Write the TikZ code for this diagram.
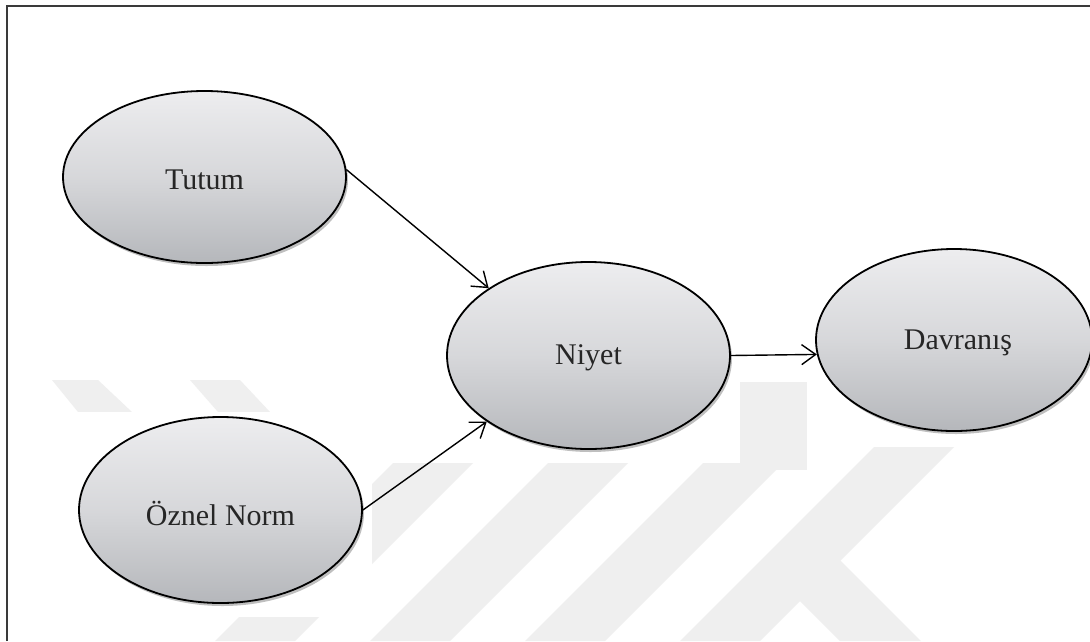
\documentclass[tikz,border=0pt]{standalone}
\usepackage{fontspec}
\setmainfont{Liberation Serif}
\usetikzlibrary{shapes.geometric,arrows.meta,shadows}
\definecolor{wm}{HTML}{EFEFEF}
\definecolor{frame}{HTML}{3A3A3A}
\definecolor{eltop}{HTML}{EDEDEF}
\definecolor{elbot}{HTML}{B5B7BB}
\tikzset{
  oval/.style={ellipse, draw=black, line width=1.8pt, inner sep=0pt,
    top color=eltop, bottom color=elbot, middle color=eltop!60!elbot,
    drop shadow={shadow xshift=2pt, shadow yshift=-3pt, opacity=0.25, fill=black}},
  lbl/.style={font=\fontsize{30}{36}\selectfont, inner sep=0pt, text=black!85},
  conn/.style={line width=1.4pt, -{Straight Barb[length=14pt,width=20pt,line width=1.4pt]}},
  wmshape/.style={fill=wm, draw=none},
  cut/.style={fill=white, draw=none}
}
\begin{document}
\begin{tikzpicture}[x=1pt,y=-1pt]
\useasboundingbox (0,0) rectangle (1090,641);
\fill[white] (0,0) rectangle (1090,641);
% watermark
\fill[wmshape] (52,380) -- (98,380) -- (132,412) -- (78,412) -- cycle;
\fill[wmshape] (190,380) -- (240,380) -- (270,412) -- (218,412) -- cycle;
\fill[wmshape] (215,641) -- (295,641) -- (500,436) -- (420,436) -- cycle;
\fill[wmshape] (370,641) -- (450,641) -- (655,436) -- (575,436) -- cycle;
\fill[wmshape] (525,641) -- (605,641) -- (810,436) -- (730,436) -- cycle;
\fill[wmshape] (680,641) -- (760,641) -- (1020,381) -- (940,381) -- cycle;
\fill[wmshape] (740,382) -- (807,382) -- (807,470) -- (740,470) -- cycle;
\fill[wmshape] (810,530) -- (921,641) -- (840,641) -- (765,566) -- cycle;
% white cut-outs
\fill[cut] (60,412) rectangle (372,617);
\fill[cut] (372,250) rectangle (740,463);
\fill[cut] (740,320) rectangle (807,382);
\fill[cut] (807,240) rectangle (1090,447);
% frame
\draw[frame, line width=2.2pt] (7,641) -- (7,6) -- (1092,6);
% ellipses
\node[oval, minimum width=283pt, minimum height=172pt] (tutum) at (204.5,177) {};
\node[oval, minimum width=283pt, minimum height=186pt] (oznel) at (220.5,510) {};
\node[oval, minimum width=283pt, minimum height=187pt] (niyet) at (588.5,355.5) {};
\node[oval, minimum width=276pt, minimum height=182pt] (davranis) at (954,340) {};
\node[lbl] at (204.5,180) {Tutum};
\node[lbl] at (220.5,513) {Öznel Norm};
\node[lbl] at (588.5,358) {Niyet};
\node[lbl] at (958,343) {Davranış};
% connectors
\draw[conn] (tutum.3) -- (niyet.146.9);
\draw[conn] (oznel.east) -- (niyet.213.6);
\draw[conn] (niyet.east) -- (davranis.186.3);
\end{tikzpicture}
\end{document}
